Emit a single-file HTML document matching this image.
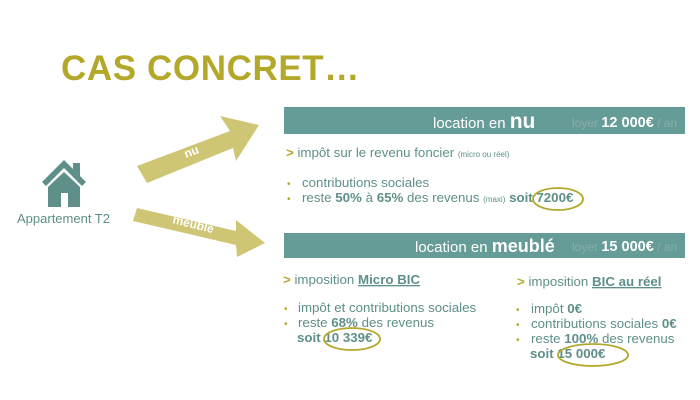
<!DOCTYPE html>
<html><head><meta charset="utf-8"><style>
body{margin:0;background:#fff}
svg{display:block}
text{font-family:"Liberation Sans",sans-serif}
</style></head><body>
<svg width="700" height="400" viewBox="0 0 700 400" xmlns="http://www.w3.org/2000/svg">
<text x="61" y="80" font-size="35" font-weight="bold" fill="#b3a82a" letter-spacing="0.6">CAS CONCRET…</text>

<!-- house -->
<g fill="#5e8f89">
<rect x="73" y="163" width="7" height="14"/>
<polygon points="64,160 86,182 82,186 64,168 46,186 42,182"/>
<polygon points="64,172 80,187 80,207 68,207 68,193 61,193 61,207 48,207 48,187"/>
</g>
<text x="17" y="223" font-size="13" fill="#5e8f89">Appartement T2</text>

<!-- arrows -->
<polygon points="137,166 230,131 220,116 259,125 236,161 233,148 147,183" fill="#cfc675"/>
<text transform="translate(186,158) rotate(-21)" font-size="12" font-weight="bold" fill="#fff">nu</text>
<polygon points="137,208 236,231 236,220 265,243 237,257 236,245 133,221" fill="#cfc675"/>
<text transform="translate(172,223) rotate(14)" font-size="12" font-weight="bold" fill="#fff">meublé</text>

<!-- nu bar -->
<rect x="284" y="107" width="401" height="27" fill="#669c97"/>
<text x="433" y="128" font-size="15" fill="#fff">location en <tspan font-size="21" font-weight="bold">nu</tspan></text>
<text x="572" y="127" font-size="12" fill="#8aaea9">loyer <tspan font-size="14.5" font-weight="bold" fill="#fff">12 000€</tspan> / an</text>

<g font-size="13.3" fill="#5e8f89">
<text x="286" y="157"><tspan fill="#b3a82a" font-weight="bold">&gt;</tspan> impôt sur le revenu foncier <tspan font-size="8">(micro ou réel)</tspan></text>
<text x="287" y="187" fill="#b3a82a" font-size="10">•</text>
<text x="302" y="187">contributions sociales</text>
<text x="287" y="202" fill="#b3a82a" font-size="10">•</text>
<text x="302" y="202">reste <tspan font-weight="bold">50%</tspan> à <tspan font-weight="bold">65%</tspan> des revenus <tspan font-size="8">(maxi)</tspan> <tspan font-weight="bold">soit 7200€</tspan></text>
</g>
<ellipse cx="558" cy="199" rx="25" ry="11" fill="none" stroke="#b3a82a" stroke-width="1.8"/>

<!-- meublé bar -->
<rect x="284" y="233" width="401" height="25" fill="#669c97"/>
<text x="415" y="252" font-size="15" fill="#fff">location en <tspan font-size="18" font-weight="bold">meublé</tspan></text>
<text x="572" y="251" font-size="12" fill="#8aaea9">loyer <tspan font-size="14.5" font-weight="bold" fill="#fff">15 000€</tspan> / an</text>

<g font-size="13.3" fill="#5e8f89">
<text x="283" y="284"><tspan fill="#b3a82a" font-weight="bold">&gt;</tspan>  imposition <tspan font-weight="bold" text-decoration="underline">Micro BIC</tspan></text>
<text x="284" y="312" fill="#b3a82a" font-size="10">•</text>
<text x="298" y="312">impôt et contributions sociales</text>
<text x="284" y="327" fill="#b3a82a" font-size="10">•</text>
<text x="298" y="327">reste <tspan font-weight="bold">68%</tspan> des revenus</text>
<text x="297" y="342" font-weight="bold">soit 10 339€</text>

<text x="517" y="286"><tspan fill="#b3a82a" font-weight="bold">&gt;</tspan> imposition <tspan font-weight="bold" text-decoration="underline">BIC au réel</tspan></text>
<text x="516" y="313" fill="#b3a82a" font-size="10">•</text>
<text x="531" y="313">impôt <tspan font-weight="bold">0€</tspan></text>
<text x="516" y="328" fill="#b3a82a" font-size="10">•</text>
<text x="531" y="328">contributions sociales <tspan font-weight="bold">0€</tspan></text>
<text x="516" y="343" fill="#b3a82a" font-size="10">•</text>
<text x="531" y="343">reste <tspan font-weight="bold">100%</tspan> des revenus</text>
<text x="530" y="358" font-weight="bold">soit 15 000€</text>
</g>
<ellipse cx="352" cy="339" rx="28" ry="11" fill="none" stroke="#b3a82a" stroke-width="1.8"/>
<ellipse cx="593" cy="355" rx="35" ry="11" fill="none" stroke="#b3a82a" stroke-width="1.8"/>
</svg>
</body></html>
